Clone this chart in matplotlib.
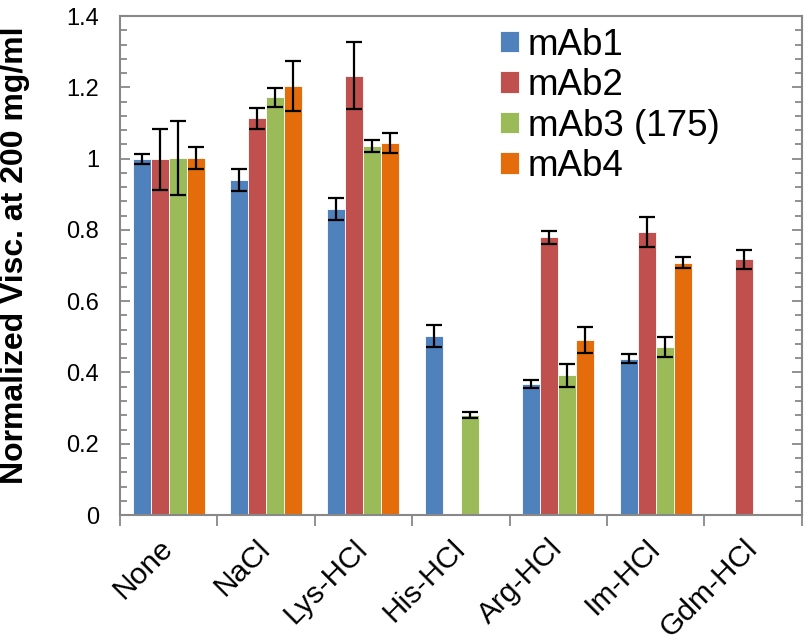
# Normalized viscosity of four mAbs with different excipients

import matplotlib.pyplot as plt
import numpy as np

plt.rcParams['font.family'] = ['Liberation Sans', 'DejaVu Sans']

excipients = ['None', 'NaCl', 'Lys-HCl', 'His-HCl', 'Arg-HCl', 'Im-HCl', 'Gdm-HCl']
series = ['mAb1', 'mAb2', 'mAb3 (175)', 'mAb4']

# nan = no bar for that excipient
mab1 = [1.00, 0.94, 0.859, 0.502, 0.368, 0.439, np.nan]
mab2 = [0.998, 1.113, 1.232, np.nan, 0.779, 0.794, 0.718]
mab3 = [1.002, 1.172, 1.035, 0.281, 0.392, 0.471, np.nan]
mab4 = [1.002, 1.203, 1.043, np.nan, 0.491, 0.708, np.nan]

mab1_err = [0.014, 0.030, 0.031, 0.030, 0.011, 0.012, np.nan]
mab2_err = [0.086, 0.029, 0.094, np.nan, 0.018, 0.042, 0.027]
mab3_err = [0.105, 0.026, 0.016, 0.009, 0.032, 0.028, np.nan]
mab4_err = [0.030, 0.070, 0.028, np.nan, 0.037, 0.015, np.nan]

values = [mab1, mab2, mab3, mab4]
errors = [mab1_err, mab2_err, mab3_err, mab4_err]
colors = ['#4F81BD', '#C0504D', '#9BBB59', '#E46C0A']

fig = plt.figure(figsize=(8.05, 6.43), dpi=100)
ax = fig.add_axes([0.149, 0.199, 0.847, 0.776])

x = np.arange(len(excipients))
bar_width = 0.185
for i, (vals, errs, col, name) in enumerate(zip(values, errors, colors, series)):
    pos = x + (i - 1.5) * bar_width
    ax.bar(pos, vals, width=bar_width, color=col, edgecolor='white',
           linewidth=0.6, label=name)
    ax.errorbar(pos, vals, yerr=errs, fmt='none', ecolor='black',
                elinewidth=1.6, capsize=6, capthick=1.6)

ax.set_xlim(-0.5, len(excipients) - 0.5)
ax.set_ylim(0, 1.4)

# y axis: ticks inside on both sides
ax.set_yticks(np.arange(0, 1.41, 0.2))
ax.set_yticklabels(['0', '0.2', '0.4', '0.6', '0.8', '1', '1.2', '1.4'], fontsize=17)
ax.set_yticks(np.arange(0, 1.401, 0.04), minor=True)
ax.tick_params(axis='y', which='major', direction='in', length=7, width=1.3,
               color='#888888', right=True, pad=15)
ax.tick_params(axis='y', which='minor', direction='in', length=5, width=1.3,
               color='#888888', right=True)

# x axis: labels at centres, ticks at group boundaries
ax.set_xticks(x)
ax.set_xticklabels(excipients, fontsize=21.5, rotation=45, ha='right', va='center',
                   rotation_mode='anchor')
ax.set_xticks(np.arange(-0.5, len(excipients)), minor=True)
ax.tick_params(axis='x', which='major', length=0, pad=21)
ax.tick_params(axis='x', which='minor', direction='out', length=8, width=1.3,
               color='#888888')

for sp in ax.spines.values():
    sp.set_color('#888888')
    sp.set_linewidth(1.5)

ax.set_ylabel('Normalized Visc. at 200 mg/ml', fontsize=23, fontweight='bold')
ax.yaxis.set_label_coords(-0.132, 0.52)

ax.legend(loc='upper left', bbox_to_anchor=(0.621, 0.957), bbox_transform=fig.transFigure,
          frameon=False, fontsize=26.5, handlelength=0.52, handleheight=0.52,
          handletextpad=0.24, labelspacing=0.15, borderaxespad=0, borderpad=0)

plt.savefig('out.png', dpi=100)
